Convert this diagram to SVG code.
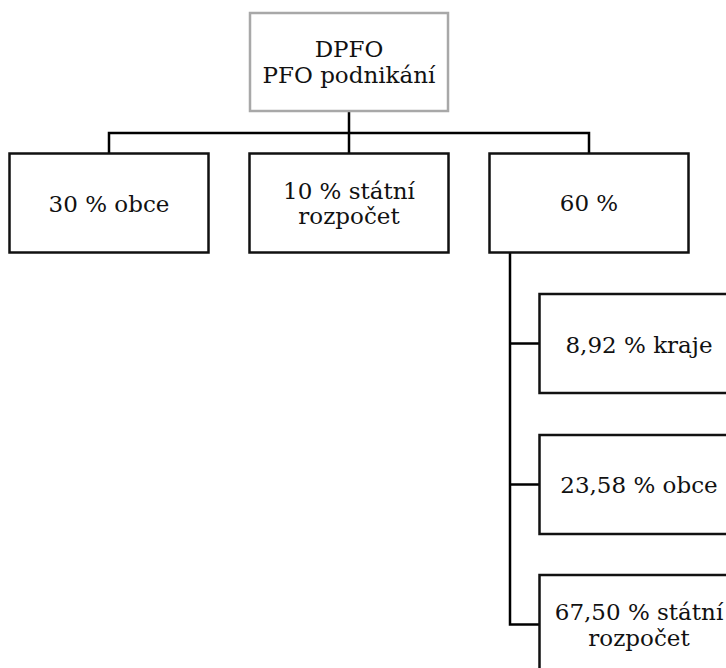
<svg xmlns="http://www.w3.org/2000/svg" width="726" height="668" viewBox="0 0 726 668">
<style>
.box{fill:#fff;stroke:#111;stroke-width:2.5}
.root{fill:#fff;stroke:#a8a8a8;stroke-width:2.5}
.c{fill:none;stroke:#000;stroke-width:2.5}
.t{font-family:"DejaVu Serif","Liberation Serif",serif;font-size:23px;fill:#111;text-anchor:middle}
</style>
<rect width="726" height="668" fill="#fff"/>
<g id="connectors">
<path class="c" d="M349 111V153M109 153V133H589V153"/>
<path class="c" d="M510 253V624.5H539M510 343.5H539M510 484.5H539"/>
</g>
<g id="n-root">
<rect class="root" x="250" y="13" width="198" height="98"/>
<text class="t" x="349" y="57">DPFO<tspan x="349" dy="26">PFO podnikání</tspan></text>
</g>
<g id="n-obce30">
<rect class="box" x="9.5" y="153.5" width="199" height="99"/>
<text class="t" x="109" y="212">30 % obce</text>
</g>
<g id="n-sr10">
<rect class="box" x="249.5" y="153.5" width="199" height="99"/>
<text class="t" x="349" y="199">10 % státní<tspan x="349" dy="25">rozpočet</tspan></text>
</g>
<g id="n-60">
<rect class="box" x="489.5" y="153.5" width="199" height="99"/>
<text class="t" x="589" y="211">60 %</text>
</g>
<g id="n-kraje">
<rect class="box" x="539.5" y="294" width="199" height="99"/>
<text class="t" x="639" y="352.5">8,92 % kraje</text>
</g>
<g id="n-obce2358">
<rect class="box" x="539.5" y="435" width="199" height="99"/>
<text class="t" x="639" y="493">23,58 % obce</text>
</g>
<g id="n-sr6750">
<rect class="box" x="539.5" y="575" width="199" height="99"/>
<text class="t" x="639" y="620">67,50 % státní<tspan x="639" dy="25.5">rozpočet</tspan></text>
</g>
</svg>
